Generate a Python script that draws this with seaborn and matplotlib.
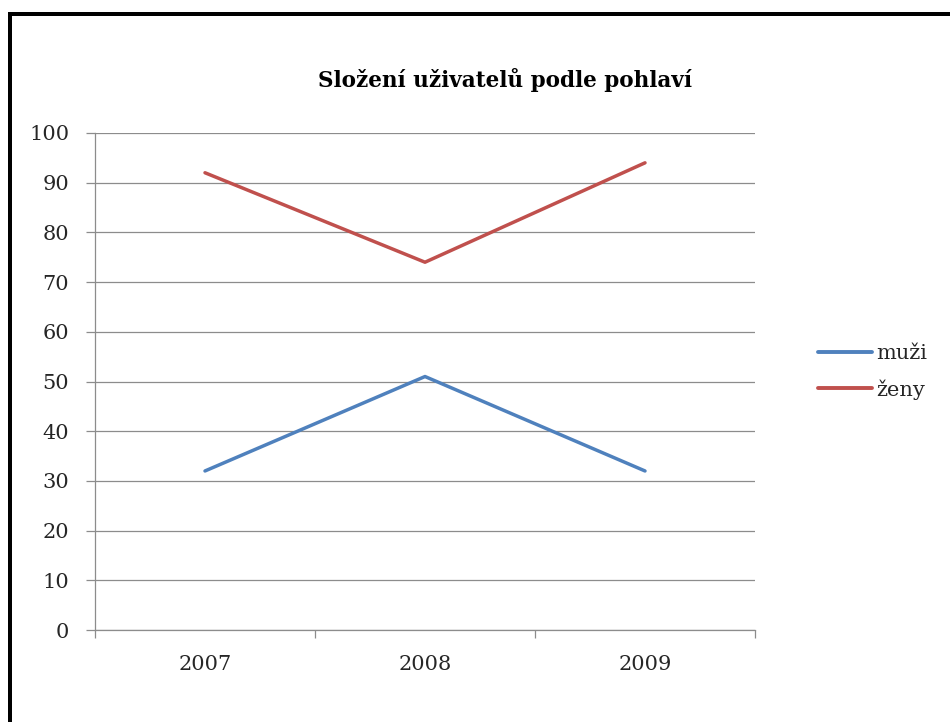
import matplotlib
matplotlib.use("Agg")
import matplotlib.pyplot as plt
from matplotlib.lines import Line2D
from matplotlib.ticker import FixedLocator, NullFormatter
import seaborn as sns
import pandas as pd

# Data
years = ["2007", "2008", "2009"]
muzi = [32, 51, 32]
zeny = [92, 74, 94]
series_names = ["muži", "ženy"]
y_ticks = list(range(0, 101, 10))
title = "Složení uživatelů podle pohlaví"

df = pd.DataFrame({
    "rok": years * 2,
    "hodnota": muzi + zeny,
    "pohlaví": [series_names[0]] * len(years) + [series_names[1]] * len(years),
})

sns.set_theme(style="white")
plt.rcParams["font.family"] = ["DejaVu Serif", "Liberation Serif"]

W, H = 950, 722
fig = plt.figure(figsize=(W / 100, H / 100), dpi=100)
fig.patch.set_facecolor("white")

# plot area in pixel coordinates
left, top, right, bottom = 95, 133, 755, 630
ax = fig.add_axes([left / W, 1 - bottom / H, (right - left) / W, (bottom - top) / H])

palette = {"muži": "#4F81BD", "ženy": "#C0504D"}
sns.lineplot(data=df, x="rok", y="hodnota", hue="pohlaví", palette=palette,
             linewidth=2.5, sort=False, ax=ax, legend=False)

grid_c = "#8C8C8C"
ax.set_ylim(0, 100)
ax.set_xlim(-0.5, len(years) - 0.5)
ax.set_yticks(y_ticks)
ax.set_yticklabels([str(v) for v in y_ticks])
ax.yaxis.grid(True, color=grid_c, linewidth=0.9)
ax.xaxis.grid(False)
ax.set_axisbelow(True)

# category boundaries as major ticks, labels on minor ticks at centres
ax.xaxis.set_major_locator(FixedLocator([i - 0.5 for i in range(len(years) + 1)]))
ax.xaxis.set_major_formatter(NullFormatter())
ax.xaxis.set_minor_locator(FixedLocator(list(range(len(years)))))
ax.set_xticklabels(years, minor=True)
ax.tick_params(axis="x", which="major", direction="out", length=5.5, width=0.9,
               color=grid_c, bottom=True)
ax.tick_params(axis="x", which="minor", length=0, pad=18, labelsize=15, bottom=True)
ax.tick_params(axis="y", direction="out", length=6.5, width=0.9, color=grid_c,
               pad=12, labelsize=15, left=True)
ax.set_xlabel("")
ax.set_ylabel("")

for side in ("top", "right"):
    ax.spines[side].set_visible(False)
for side in ("left", "bottom"):
    ax.spines[side].set_color(grid_c)
    ax.spines[side].set_linewidth(0.9)

# title
fig.text(505 / W, 1 - 80 / H, title, ha="center", va="center",
         fontsize=15.5, fontweight="bold", color="black")

# legend
handles = [Line2D([], [], color=palette[n], linewidth=2.8) for n in series_names]
fig.legend(handles, series_names, loc="center left",
           bbox_to_anchor=(818 / W, 1 - 372 / H), frameon=False,
           fontsize=15, handlelength=2.6, handletextpad=0.2, labelspacing=0.75,
           borderaxespad=0, borderpad=0)

# outer frame (top and left edges)
lw = 4 * 72 / 100
fig.add_artist(Line2D([10 / W, 1.0], [1 - 13.5 / H, 1 - 13.5 / H],
                      transform=fig.transFigure, color="black", linewidth=lw,
                      solid_capstyle="projecting"))
fig.add_artist(Line2D([10 / W, 10 / W], [0, 1 - 13.5 / H],
                      transform=fig.transFigure, color="black", linewidth=lw,
                      solid_capstyle="projecting"))

fig.savefig("out.png", dpi=100)
